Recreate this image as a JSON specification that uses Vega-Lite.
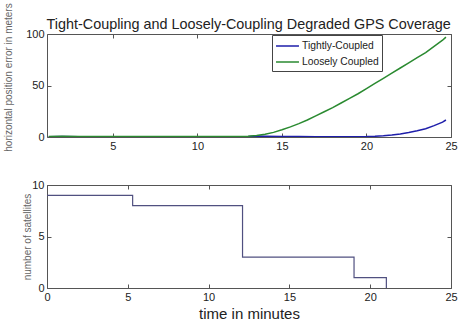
{
  "$schema": "https://vega.github.io/schema/vega-lite/v6.json",
  "background": "white",
  "padding": {"left": 2, "top": 2, "right": 5, "bottom": 0},
  "config": {
    "font": "Liberation Sans",
    "view": {"stroke": "#555555", "strokeWidth": 1},
    "axis": {
      "grid": false, "domain": false, "tickSize": -4, "tickColor": "#555555",
      "labelFont": "Liberation Sans", "labelFontSize": 11, "labelColor": "#222222",
      "labelPadding": 7, "labelFlush": false, "labelOverlap": false
    }
  },
  "title": {"text": "Tight-Coupling and Loosely-Coupling Degraded GPS Coverage", "font": "Liberation Sans", "fontSize": 14.4, "fontWeight": "normal", "color": "#222222", "offset": -30, "anchor": "start", "dx": 44},
  "spacing": 26,
  "vconcat": [
    {
      "width": 404, "height": 103,
      "data": {"values": [
        {"t": 1.2, "s": "Tightly-Coupled", "v": 0.3}, {"t": 2, "s": "Tightly-Coupled", "v": 0.4}, {"t": 3, "s": "Tightly-Coupled", "v": 0.3}, {"t": 4, "s": "Tightly-Coupled", "v": 0.3}, {"t": 5, "s": "Tightly-Coupled", "v": 0.3}, {"t": 6, "s": "Tightly-Coupled", "v": 0.3}, {"t": 7, "s": "Tightly-Coupled", "v": 0.3}, {"t": 8, "s": "Tightly-Coupled", "v": 0.3}, {"t": 9, "s": "Tightly-Coupled", "v": 0.3}, {"t": 10, "s": "Tightly-Coupled", "v": 0.3}, {"t": 11, "s": "Tightly-Coupled", "v": 0.3}, {"t": 12, "s": "Tightly-Coupled", "v": 0.3}, {"t": 13, "s": "Tightly-Coupled", "v": 0.4}, {"t": 13.5, "s": "Tightly-Coupled", "v": 0.9}, {"t": 14, "s": "Tightly-Coupled", "v": 0.8}, {"t": 15, "s": "Tightly-Coupled", "v": 0.6}, {"t": 16, "s": "Tightly-Coupled", "v": 0.4}, {"t": 17, "s": "Tightly-Coupled", "v": 0.3}, {"t": 18, "s": "Tightly-Coupled", "v": 0.3}, {"t": 19, "s": "Tightly-Coupled", "v": 0.3}, {"t": 20, "s": "Tightly-Coupled", "v": 0.4}, {"t": 20.5, "s": "Tightly-Coupled", "v": 0.7}, {"t": 21, "s": "Tightly-Coupled", "v": 1.2}, {"t": 21.5, "s": "Tightly-Coupled", "v": 2}, {"t": 22, "s": "Tightly-Coupled", "v": 3}, {"t": 22.5, "s": "Tightly-Coupled", "v": 4.3}, {"t": 23, "s": "Tightly-Coupled", "v": 6}, {"t": 23.5, "s": "Tightly-Coupled", "v": 8}, {"t": 24, "s": "Tightly-Coupled", "v": 11}, {"t": 24.5, "s": "Tightly-Coupled", "v": 14.5}, {"t": 24.7, "s": "Tightly-Coupled", "v": 16.5},
        {"t": 1.2, "s": "Loosely Coupled", "v": 0.5}, {"t": 2, "s": "Loosely Coupled", "v": 0.7}, {"t": 3, "s": "Loosely Coupled", "v": 0.5}, {"t": 4, "s": "Loosely Coupled", "v": 0.5}, {"t": 5, "s": "Loosely Coupled", "v": 0.5}, {"t": 6, "s": "Loosely Coupled", "v": 0.5}, {"t": 7, "s": "Loosely Coupled", "v": 0.5}, {"t": 8, "s": "Loosely Coupled", "v": 0.5}, {"t": 9, "s": "Loosely Coupled", "v": 0.5}, {"t": 10, "s": "Loosely Coupled", "v": 0.5}, {"t": 11, "s": "Loosely Coupled", "v": 0.5}, {"t": 12, "s": "Loosely Coupled", "v": 0.5}, {"t": 12.5, "s": "Loosely Coupled", "v": 0.6}, {"t": 13, "s": "Loosely Coupled", "v": 0.8}, {"t": 13.5, "s": "Loosely Coupled", "v": 1.4}, {"t": 14, "s": "Loosely Coupled", "v": 2.6}, {"t": 14.5, "s": "Loosely Coupled", "v": 4.5}, {"t": 15, "s": "Loosely Coupled", "v": 7}, {"t": 15.5, "s": "Loosely Coupled", "v": 9.8}, {"t": 16, "s": "Loosely Coupled", "v": 13}, {"t": 16.5, "s": "Loosely Coupled", "v": 16.5}, {"t": 17, "s": "Loosely Coupled", "v": 20.5}, {"t": 17.5, "s": "Loosely Coupled", "v": 24.5}, {"t": 18, "s": "Loosely Coupled", "v": 28.5}, {"t": 18.5, "s": "Loosely Coupled", "v": 33}, {"t": 19, "s": "Loosely Coupled", "v": 37.5}, {"t": 19.5, "s": "Loosely Coupled", "v": 42}, {"t": 20, "s": "Loosely Coupled", "v": 47}, {"t": 20.5, "s": "Loosely Coupled", "v": 52}, {"t": 21, "s": "Loosely Coupled", "v": 57}, {"t": 21.5, "s": "Loosely Coupled", "v": 62}, {"t": 22, "s": "Loosely Coupled", "v": 67}, {"t": 22.5, "s": "Loosely Coupled", "v": 72}, {"t": 23, "s": "Loosely Coupled", "v": 77}, {"t": 23.5, "s": "Loosely Coupled", "v": 82}, {"t": 24, "s": "Loosely Coupled", "v": 88}, {"t": 24.5, "s": "Loosely Coupled", "v": 94}, {"t": 24.7, "s": "Loosely Coupled", "v": 97}
      ]},
      "layer": [
        {
          "mark": {"type": "line", "strokeWidth": 1.5, "clip": true},
          "encoding": {
            "x": {"field": "t", "type": "quantitative", "scale": {"domain": [1.1, 25], "nice": false, "zero": false}, "axis": {"values": [5, 10, 15, 20, 25], "title": null}},
            "y": {"field": "v", "type": "quantitative", "scale": {"domain": [0, 100], "nice": false}, "axis": {"values": [0, 50, 100], "title": "horizontal position error in meters", "titleFont": "Liberation Sans", "titleFontSize": 10, "titleFontWeight": "normal", "titleColor": "#666666", "titleX": -39, "titleY": 43, "titleAngle": -90, "titleBaseline": "middle", "minExtent": 30, "maxExtent": 30}},
            "color": {"field": "s", "type": "nominal", "scale": {"domain": ["Tightly-Coupled", "Loosely Coupled"], "range": ["#1e1eaa", "#2a8a30"]},
              "legend": {"orient": "none", "legendX": 225, "legendY": 1, "title": null, "strokeColor": "#444444", "fillColor": "white", "padding": 3, "symbolType": "M-1.64,0H1.64", "symbolSize": 196, "symbolStrokeWidth": 1.5, "symbolOffset": 4.5, "labelFont": "Liberation Sans", "labelFontSize": 10.3, "labelColor": "#222222", "rowPadding": 2, "labelOffset": 6.5}}
          }
        },
        {
          "mark": {"type": "line", "opacity": 0, "clip": true},
          "encoding": {
            "x": {"field": "t", "type": "quantitative", "axis": {"orient": "top", "values": [5, 10, 15, 20, 25], "labels": false, "title": null}},
            "y": {"field": "v", "type": "quantitative", "axis": {"orient": "right", "values": [0, 50, 100], "labels": false, "title": null}},
            "detail": {"field": "s"}
          }
        }
      ],
      "resolve": {"axis": {"x": "independent", "y": "independent"}}
    },
    {
      "width": 404, "height": 103,
      "data": {"values": [
        {"t": 0, "n": 9}, {"t": 5.3, "n": 8}, {"t": 12.1, "n": 3}, {"t": 19, "n": 1}, {"t": 21, "n": 0}
      ]},
      "layer": [
        {
          "mark": {"type": "line", "interpolate": "step-after", "strokeWidth": 1.2, "color": "#505080"},
          "encoding": {
            "x": {"field": "t", "type": "quantitative", "scale": {"domain": [0, 25], "nice": false}, "axis": {"values": [0, 5, 10, 15, 20, 25], "title": "time in minutes", "titleFont": "Liberation Sans", "titleFontSize": 15, "titleFontWeight": "normal", "titleColor": "#222222", "titlePadding": 4}},
            "y": {"field": "n", "type": "quantitative", "scale": {"domain": [0, 10], "nice": false}, "axis": {"values": [0, 5, 10], "title": "number of satellites", "titleFont": "Liberation Sans", "titleFontSize": 10, "titleFontWeight": "normal", "titleColor": "#666666", "titleX": -20, "titleY": 51.5, "titleAngle": -90, "titleBaseline": "middle", "minExtent": 30, "maxExtent": 30}}
          }
        },
        {
          "mark": {"type": "line", "opacity": 0},
          "encoding": {
            "x": {"field": "t", "type": "quantitative", "axis": {"orient": "top", "values": [0, 5, 10, 15, 20, 25], "labels": false, "title": null}},
            "y": {"field": "n", "type": "quantitative", "axis": {"orient": "right", "values": [0, 5, 10], "labels": false, "title": null}}
          }
        }
      ],
      "resolve": {"axis": {"x": "independent", "y": "independent"}}
    }
  ]
}
